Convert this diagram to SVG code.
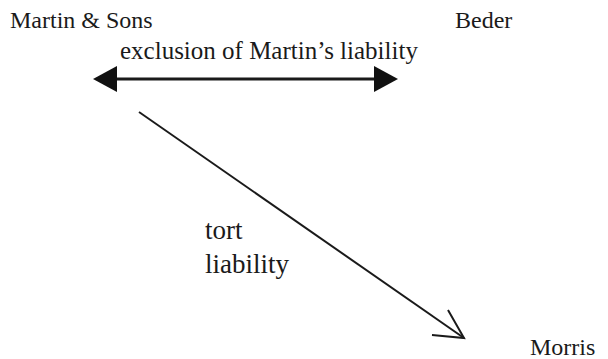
<svg xmlns="http://www.w3.org/2000/svg" width="608" height="359" viewBox="0 0 608 359">
<style>
.ln{stroke:#1a1a1a;fill:none;}
</style>
<rect width="608" height="359" fill="#ffffff"/>
<g id="martin"><text x="10" y="28" font-family="'Liberation Serif', serif" font-size="24" fill="#1a1a1a">Martin &amp; Sons</text></g>
<g id="beder"><text x="455" y="28" font-family="'Liberation Serif', serif" font-size="24" fill="#1a1a1a">Beder</text></g>
<g id="morris"><text x="530" y="355" font-family="'Liberation Serif', serif" font-size="24" fill="#1a1a1a">Morris</text></g>
<g id="connectors">
<line class="ln" x1="114" y1="79" x2="377" y2="79" stroke-width="3"/>
<polygon points="93,79 117,66 117,92" fill="#111"/>
<polygon points="398,79 374,66 374,92" fill="#111"/>
<line class="ln" x1="139" y1="112" x2="464" y2="338" stroke-width="2"/>
<polyline class="ln" points="448,310 464,338 432,335" stroke-width="2"/>
<text x="120" y="59" font-family="'Liberation Serif', serif" font-size="25" fill="#1a1a1a">exclusion of Martin’s liability</text>
<text x="205" y="239" font-family="'Liberation Serif', serif" font-size="27" fill="#1a1a1a">tort</text>
<text x="205" y="273" font-family="'Liberation Serif', serif" font-size="27" fill="#1a1a1a">liability</text>
</g>
</svg>
